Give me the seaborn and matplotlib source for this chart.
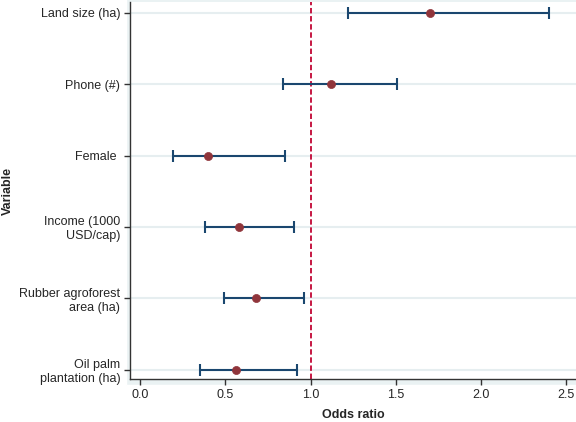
import numpy as np
import pandas as pd
import matplotlib
matplotlib.use("Agg")
import matplotlib.pyplot as plt
import seaborn as sns
from matplotlib.patches import Rectangle

variables = ["Land size (ha)", "Phone (#)", "Female ", "Income (1000\nUSD/cap)",
             "Rubber agroforest\narea (ha)", "Oil palm\nplantation (ha)"]
odds = [1.70, 1.12, 0.40, 0.58, 0.68, 0.56]
ci_low = [1.22, 0.84, 0.19, 0.38, 0.49, 0.35]
ci_high = [2.40, 1.51, 0.85, 0.90, 0.96, 0.92]
x_ticks = [0.0, 0.5, 1.0, 1.5, 2.0, 2.5]

df = pd.DataFrame({"var": variables, "or": odds, "lo": ci_low, "hi": ci_high})
df["pos"] = np.arange(len(df))

sns.set_theme(style="white")
plt.rcParams["font.family"] = ["Liberation Sans", "DejaVu Sans"]

navy = "#1a476f"
maroon = "#90353b"

fig, ax = plt.subplots(figsize=(5.76, 4.22), dpi=100)
fig.subplots_adjust(left=130 / 576, right=1.0, top=0.995, bottom=1 - 379 / 422)

# light plot-region band outside the axes spines
fig.patches.append(Rectangle((126 / 576, (422 - 385) / 422), 1, 1, transform=fig.transFigure,
                             facecolor="#eaf2f3", zorder=-1))

for p in df["pos"]:
    ax.axhline(p, color="#e6eef0", lw=1.5, zorder=0)

ax.errorbar(df["or"], df["pos"], xerr=[df["or"] - df["lo"], df["hi"] - df["or"]],
            fmt="none", ecolor=navy, elinewidth=1.5, capsize=4, capthick=1.5, zorder=2)
sns.scatterplot(data=df, x="or", y="pos", color=maroon, s=34, edgecolor=maroon,
                linewidth=0.5, zorder=3, ax=ax, legend=False)

ax.axvline(1.0, color="#c10534", lw=1.3, ls=(0, (3, 1.5)), zorder=1)

ax.set_xlim(-0.061, 2.56)
ax.set_ylim(len(df) - 1 + 0.13, -0.15)
ax.set_xticks(x_ticks)
ax.set_xticklabels([f"{t:.1f}" for t in x_ticks], fontsize=9)
ax.set_yticks(df["pos"])
ax.set_yticklabels(df["var"], fontsize=9, ha="right")
ax.tick_params(axis="both", which="major", direction="out", length=4, width=1,
               color="#333333", left=True, bottom=True, pad=3)
ax.set_xlabel("Odds ratio", fontsize=9, fontweight="bold", labelpad=6)
ax.set_ylabel("Variable", fontsize=9, fontweight="bold", labelpad=4)
ax.set_facecolor("white")
for s in ["top", "right"]:
    ax.spines[s].set_visible(False)
for s in ["left", "bottom"]:
    ax.spines[s].set_color("#333333")
    ax.spines[s].set_linewidth(1)

fig.savefig("out.png", dpi=100)
